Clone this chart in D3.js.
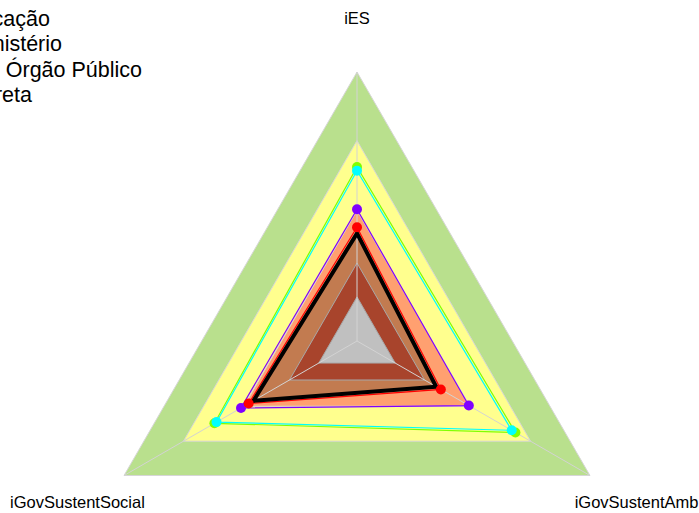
<!DOCTYPE html>
<html>
<head>
<meta charset="utf-8">
<script src="https://cdn.jsdelivr.net/npm/d3@7"></script>
<style>
  html, body { margin: 0; padding: 0; background: #fff; overflow: hidden; }
  svg { display: block; font-family: "Liberation Sans", Arial, sans-serif; }
</style>
</head>
<body>
<svg id="chart" width="699" height="513"></svg>
<script>
// Radar axes, in drawing order (first at the top, then counter-clockwise)
const axes = ["iES", "iGovSustentSocial", "iGovSustentAmb"];

// Performance bands (outer radius of each, as a share of the scale maximum)
const bandLevels = [1.0, 0.745, 0.485, 0.29, 0.164];
const bandColors = ["#B9E08D", "#FFFF8E", "#FFA070", "#A8442C", "#C0C0C0"];

// Series values per axis: iES, iGovSustentSocial, iGovSustentAmb
const seriesNames = ["Média da Classificação", "Média do Ministério", "Média Geral", "Este Órgão Público", "Administração Direta"];
const seriesColors = ["#80FF00", "#00FFFF", "#8000FF", "#FF0000", "#000000"];
const seriesValues = [
  [0.647, 0.612, 0.680],
  [0.633, 0.603, 0.664],
  [0.490, 0.498, 0.480],
  [0.423, 0.465, 0.360],
  [0.400, 0.445, 0.340]
];

// Legend entries
const legendLabels = ["Média da Classificação", "Média do Ministério", "Este Órgão Público", "Administração Direta"];

const svg = d3.select("#chart");
const cx = 357, cy = 341, R = 269;
const g = svg.append("g").attr("transform", `translate(${cx},${cy})`);

const r = d3.scaleLinear().domain([0, 1]).range([0, R]);
const angle = d3.scaleLinear().domain([0, axes.length]).range([0, -2 * Math.PI]);

const radial = d3.lineRadial()
  .angle((d, i) => angle(i))
  .radius(d => r(d))
  .curve(d3.curveLinearClosed);

const ring = v => axes.map(() => v);
const pt = (v, i) => [r(v) * Math.sin(angle(i)), -r(v) * Math.cos(angle(i))];

// outer bands
const outerBands = bandLevels.slice(0, 3);
g.selectAll("path.band-outer")
  .data(outerBands)
  .join("path")
  .attr("class", "band-outer")
  .attr("d", v => radial(ring(v)))
  .attr("fill", (v, i) => bandColors[i])
  .attr("stroke", "#D6D6D6")
  .attr("stroke-width", 1);

// filled area of the reference series (brown, under the inner bands)
const refIdx = seriesValues.length - 1;
g.append("path")
  .attr("d", radial(seriesValues[refIdx]))
  .attr("fill", "#C27B50")
  .attr("stroke", "none");

// inner bands
g.selectAll("path.band-inner")
  .data(bandLevels.slice(3))
  .join("path")
  .attr("class", "band-inner")
  .attr("d", v => radial(ring(v)))
  .attr("fill", (v, i) => bandColors[i + 3])
  .attr("stroke", "#A8A8A8")
  .attr("stroke-width", 1);

// axis spokes
g.selectAll("line.spoke")
  .data(axes)
  .join("line")
  .attr("class", "spoke")
  .attr("x1", 0).attr("y1", 0)
  .attr("x2", (d, i) => pt(1, i)[0])
  .attr("y2", (d, i) => pt(1, i)[1])
  .attr("stroke", "#D3D3D3")
  .attr("stroke-width", 1);

// series outlines
seriesValues.forEach((vals, s) => {
  g.append("path")
    .attr("d", radial(vals))
    .attr("fill", "none")
    .attr("stroke", seriesColors[s])
    .attr("stroke-width", s === refIdx ? 4 : 1.2)
    .attr("stroke-linejoin", "miter");
});

// series points (all but the reference outline)
seriesValues.slice(0, refIdx).forEach((vals, s) => {
  g.selectAll(null)
    .data(vals)
    .join("circle")
    .attr("cx", (v, i) => pt(v, i)[0])
    .attr("cy", (v, i) => pt(v, i)[1])
    .attr("r", 5)
    .attr("fill", seriesColors[s]);
});

// axis labels
g.selectAll("text.axis-label")
  .data(axes)
  .join("text")
  .attr("class", "axis-label")
  .attr("x", (d, i) => pt(1.2, i)[0])
  .attr("y", (d, i) => pt(1.2, i)[1])
  .attr("text-anchor", "middle")
  .attr("dominant-baseline", "central")
  .attr("font-size", 16.5)
  .attr("fill", "#000")
  .text(d => d);

// legend (runs off the left edge)
const legendRight = [50, 62, 142, 32];
svg.append("g")
  .selectAll("text")
  .data(legendLabels)
  .join("text")
  .attr("x", (d, i) => legendRight[i])
  .attr("y", (d, i) => 26 + i * 25.3)
  .attr("text-anchor", "end")
  .attr("font-size", 21.5)
  .attr("fill", "#000")
  .text(d => d);
</script>
</body>
</html>
